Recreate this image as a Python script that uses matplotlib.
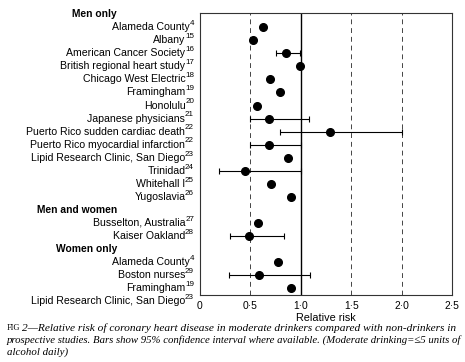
import numpy as np
import matplotlib
matplotlib.use("Agg")
import matplotlib.pyplot as plt
from matplotlib.transforms import blended_transform_factory, offset_copy

plt.rcParams["font.family"] = ["Liberation Sans", "DejaVu Sans"]

# data
groups = ["Men only", "Men and women", "Women only"]
men_studies = ["Alameda County", "Albany", "American Cancer Society",
               "British regional heart study", "Chicago West Electric",
               "Framingham", "Honolulu", "Japanese physicians",
               "Puerto Rico sudden cardiac death",
               "Puerto Rico myocardial infarction",
               "Lipid Research Clinic, San Diego", "Trinidad", "Whitehall I",
               "Yugoslavia"]
men_refs = [4, 15, 16, 17, 18, 19, 20, 21, 22, 22, 23, 24, 25, 26]
men_rr = [0.63, 0.53, 0.85, 0.99, 0.69, 0.79, 0.57, 0.68, 1.29, 0.68, 0.87,
          0.45, 0.70, 0.90]
men_lo = [np.nan, np.nan, 0.75, np.nan, np.nan, np.nan, np.nan, 0.50, 0.79,
          0.50, np.nan, 0.19, np.nan, np.nan]
men_hi = [np.nan, np.nan, 0.99, np.nan, np.nan, np.nan, np.nan, 1.08, 2.00,
          1.00, np.nan, 1.00, np.nan, np.nan]

mw_studies = ["Busselton, Australia", "Kaiser Oakland"]
mw_refs = [27, 28]
mw_rr = [0.58, 0.49]
mw_lo = [np.nan, 0.30]
mw_hi = [np.nan, 0.83]

women_studies = ["Alameda County", "Boston nurses", "Framingham",
                 "Lipid Research Clinic, San Diego"]
women_refs = [4, 29, 19, 23]
women_rr = [0.77, 0.59, 0.90, 0.39]
women_lo = [np.nan, 0.29, np.nan, np.nan]
women_hi = [np.nan, 1.09, np.nan, np.nan]

xticks = [0, 0.5, 1.0, 1.5, 2.0, 2.5]
xtick_labels = ["0", "0·5", "1·0", "1·5", "2·0", "2·5"]

fig = plt.figure(figsize=(4.65, 3.62), dpi=100)
ax = fig.add_axes([0.430, 0.185, 0.542, 0.779])
renderer = fig.canvas.get_renderer()

lab_tr = blended_transform_factory(fig.transFigure, ax.transData)
sup_tr = offset_copy(lab_tr, fig=fig, x=0, y=2.6, units="points")

row = 0
all_sets = [(men_studies, men_refs, men_rr, men_lo, men_hi),
            (mw_studies, mw_refs, mw_rr, mw_lo, mw_hi),
            (women_studies, women_refs, women_rr, women_lo, women_hi)]
for g, (names, refs, rr, lo, hi) in zip(groups, all_sets):
    ax.text(117 / 465, row, g, transform=lab_tr, ha="right", va="center",
            fontsize=7.4, fontweight="bold", clip_on=False)
    row += 1
    for n, r, v, l, h in zip(names, refs, rr, lo, hi):
        sup = ax.text(194 / 465, row, str(r), transform=sup_tr, ha="right",
                      va="center", fontsize=5.8, clip_on=False)
        w = sup.get_window_extent(renderer).width
        ax.text((194.3 - w) / 465, row, n, transform=lab_tr,
                ha="right", va="center", fontsize=7.6, clip_on=False)
        if not np.isnan(l):
            ax.errorbar([v], [row], xerr=[[v - l], [h - v]], fmt="none",
                        ecolor="black", elinewidth=0.8, capsize=2.5,
                        capthick=0.8, zorder=3)
        ax.plot([v], [row], "o", color="black", markersize=5.5, zorder=4)
        row += 1

# reference lines
ax.axvline(1.0, color="black", linewidth=1.0, zorder=1)
for xv in [0.5, 1.5, 2.0]:
    ax.axvline(xv, color="#444444", linewidth=0.7, linestyle=(0, (5, 4)),
               zorder=1)

ax.set_xlim(0, 2.5)
ax.set_ylim(21.55, -0.1)
ax.set_yticks([])
ax.set_xticks(xticks)
ax.set_xticklabels(xtick_labels, fontsize=7.4)
ax.tick_params(axis="x", length=0, pad=4)
ax.set_xlabel("Relative risk", fontsize=7.8, labelpad=2)
for s in ax.spines.values():
    s.set_linewidth(0.8)
    s.set_color("#333333")

# caption
cap_kw = dict(family="Liberation Serif", style="italic",
              ha="left", va="center")
fig.text(7 / 465, 1 - 328 / 362, "FIG", fontsize=6.0,
         family="Liberation Serif", ha="left", va="center")
fig.text(22 / 465, 1 - 328 / 362,
         "2—Relative risk of coronary heart disease in moderate drinkers"
         " compared with non-drinkers in", fontsize=8.2, **cap_kw)
fig.text(7 / 465, 1 - 340 / 362,
         "prospective studies. Bars show 95% confidence interval where"
         " available. (Moderate drinking=≤5 units of", fontsize=7.75, **cap_kw)
fig.text(7 / 465, 1 - 352 / 362, "alcohol daily)", fontsize=7.8, **cap_kw)

fig.savefig("out.png", dpi=100)
